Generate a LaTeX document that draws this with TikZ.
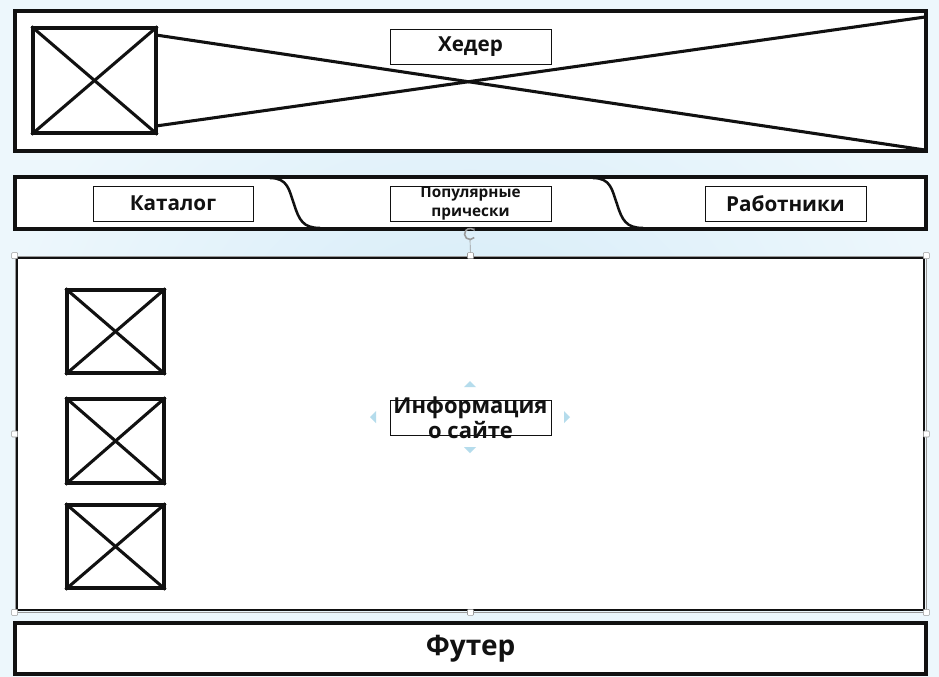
\documentclass[tikz,border=0pt]{standalone}
\usepackage{fontspec}
\setmainfont{Open Sans}
\usetikzlibrary{arrows.meta,positioning,fit}
\definecolor{inkline}{HTML}{111111}
\definecolor{bgin}{HTML}{D6ECF8}
\definecolor{bgout}{HTML}{EDF7FC}
\definecolor{selcol}{HTML}{9A9A9A}
\definecolor{hintcol}{HTML}{B5DCEC}

\begin{document}
\begin{tikzpicture}[
  x=0.75pt, y=-0.75pt,
  font=\bfseries,
  frame/.style={draw=inkline, line width=2.3pt, fill=white, inner sep=0pt},
  picbox/.style={draw=inkline, line width=2.3pt, fill=white, inner sep=0pt},
  cross/.style={draw=inkline, line width=2.3pt},
  tag/.style={draw=inkline, line width=0.7pt, fill=white, inner sep=0pt},
  lbl/.style={align=center, text=inkline, inner sep=0pt},
  handle/.style={draw=selcol, fill=white, line width=0.4pt, minimum size=4.5pt, inner sep=0pt, rounded corners=0.6pt},
  hint/.style={fill=hintcol, draw=none},
]

% ---- background ----
\shade[inner color=bgin, outer color=bgout] (0,0) rectangle (939,676);
\useasboundingbox (0,0) rectangle (939,676);

% ---- header ----
\node[frame, fit={(15,11) (926,151)}] (hdr) {};
\node[picbox, fit={(33,28) (156,133)}] (logo) {};
\draw[cross] (logo.north west) -- (logo.south east) (logo.north east) -- (logo.south west);
\coordinate (lt) at (156,35);
\coordinate (lb) at (156,126);
\coordinate (rt) at (925,17);
\coordinate (rb) at (925,150);
\draw[cross] (lt) -- (rb);
\draw[cross] (lb) -- (rt);
\node[tag, fit={(390,29) (551,64)}] (hdrtag) {};
\node[lbl, font=\fontsize{15.5}{18}\selectfont\bfseries] at (hdrtag.center) {Хедер};

% ---- menu ----
\node[frame, fit={(15,177) (926,229)}] (menu) {};
\foreach \tx in {0,323}
  \draw[cross, line width=1.9pt, shift={(\tx,0)}]
    (270,178) .. controls (288,178) and (289,190) .. (294,204)
              .. controls (299,220) and (303,228) .. (320,228);
\node[tag, fit={(93,186) (253,221)}] (cat) {};
\node[lbl, font=\fontsize{15.5}{18}\selectfont\bfseries] at (cat.center) {Каталог};
\node[tag, fit={(390,186) (551,221)}] (pop) {};
\node[lbl, font=\fontsize{11.5}{14.5}\selectfont\bfseries] at (pop.center) {Популярные\\прически};
\node[tag, fit={(705,186) (866,221)}] (staff) {};
\node[lbl, font=\fontsize{15.5}{18}\selectfont\bfseries] at (staff.center) {Работники};

% ---- content ----
\node[draw=selcol, line width=0.5pt, fit={(15,256) (926,612)}, inner sep=0pt] (selbox) {};
\node[frame, line width=1.8pt, fit={(17,258) (924,610)}] (info) {};
\node[picbox, fit={(67,290) (164,373)}] (img1) {};
\node[picbox, fit={(67,399) (164,483)}] (img2) {};
\node[picbox, fit={(67,505) (164,588)}] (img3) {};
\foreach \im in {img1,img2,img3}
  \draw[cross] (\im.north west) -- (\im.south east) (\im.north east) -- (\im.south west);
\node[tag, fit={(390,400) (551,435)}] (infotag) {};
\node[lbl, font=\fontsize{16.5}{19}\selectfont\bfseries] (infotxt) at (infotag.center) {Информация\\о сайте};

% ---- selection marks ----
\fill[hint] (464,387) -- (476,387) -- (470,381) -- cycle;
\fill[hint] (464,447) -- (476,447) -- (470,453) -- cycle;
\fill[hint] (376,411) -- (376,423) -- (370,417) -- cycle;
\fill[hint] (564,411) -- (564,423) -- (570,417) -- cycle;
\coordinate (rot) at (470,234);
\draw[selcol, line width=0.5pt] (470,240) -- (selbox.north);
\draw[selcol, line width=1.2pt, -{Stealth[length=2.5pt]}] (rot) ++(40:5.5) arc (40:330:5.5);
\foreach \an in {north west,north,north east,west,east,south west,south,south east}
  \node[handle] at (selbox.\an) {};

% ---- footer ----
\node[frame, fit={(15,623) (926,674)}] (ftr) {};
\node[lbl, font=\fontsize{21}{24}\selectfont\bfseries] at (ftr.center) {Футер};

\end{tikzpicture}
\end{document}
